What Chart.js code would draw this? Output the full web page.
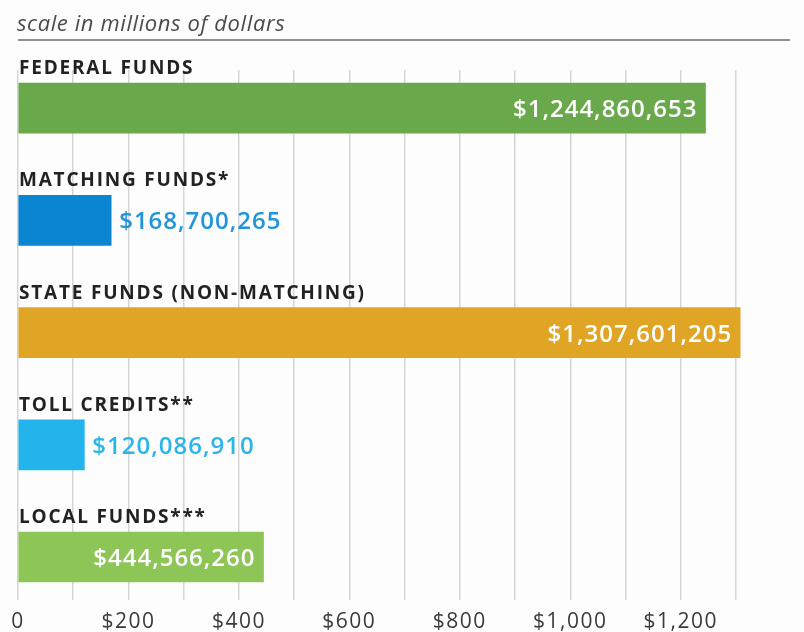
<!DOCTYPE html>
<html>
<head>
<meta charset="utf-8">
<script src="https://cdn.jsdelivr.net/npm/chart.js@4"></script>
<style>
  html, body { margin: 0; padding: 0; background: #fdfdfd; }
  #wrap { position: relative; width: 804px; height: 632px; }
</style>
</head>
<body>
<div id="wrap"><canvas id="fundsChart"></canvas></div>
<script>
// dados (valores em dólares)
const categories = ['FEDERAL FUNDS', 'MATCHING FUNDS*', 'STATE FUNDS (NON-MATCHING)', 'TOLL CREDITS**', 'LOCAL FUNDS***'];
const amounts = [1244860653, 168700265, 1307601205, 120086910, 444566260];
const barColors = ['#6aa94b', '#0a85d2', '#e1a526', '#23b4ec', '#8ec557'];
const valueInside = [true, false, true, false, true];
const valueColors = ['#ffffff', '#2194db', '#ffffff', '#2cb5e9', '#ffffff'];
const xTickValues = [0, 100, 200, 300, 400, 500, 600, 700, 800, 900, 1000, 1100, 1200, 1300];
const xTickLabels = ['0', '', '$200', '', '$400', '', '$600', '', '$800', '', '$1,000', '', '$1,200', ''];
const caption = 'scale in millions of dollars';

function fmtDollars(n) {
  return '$' + n.toLocaleString('en-US');
}

// legenda do topo + linha
const captionPlugin = {
  id: 'caption',
  beforeDraw(chart) {
    const ctx = chart.ctx;
    ctx.save();
    ctx.letterSpacing = '0.6px';
    ctx.font = 'italic 400 22px "Open Sans"';
    ctx.fillStyle = '#4b4b4b';
    ctx.textAlign = 'left';
    ctx.textBaseline = 'alphabetic';
    ctx.fillText(caption, 17, 31);
    ctx.strokeStyle = '#6a6a6a';
    ctx.lineWidth = 1.5;
    ctx.beginPath();
    ctx.moveTo(18, 40);
    ctx.lineTo(790, 40);
    ctx.stroke();
    ctx.restore();
    ctx.letterSpacing = '1.5px'; // ticks do eixo x
  }
};

// rótulos de categoria acima das barras e valores
const barTextPlugin = {
  id: 'barText',
  afterDatasetsDraw(chart) {
    const ctx = chart.ctx;
    const meta = chart.getDatasetMeta(0);
    ctx.save();
    meta.data.forEach((bar, i) => {
      const top = bar.y - bar.height / 2;

      ctx.letterSpacing = '1.8px';
      ctx.font = '700 19px "Open Sans"';
      ctx.fillStyle = '#222222';
      ctx.textAlign = 'left';
      ctx.textBaseline = 'alphabetic';
      ctx.fillText(categories[i], 19, top - 9);

      ctx.letterSpacing = '1px';
      ctx.font = '600 24px "Open Sans"';
      ctx.fillStyle = valueColors[i];
      const txt = fmtDollars(amounts[i]);
      if (valueInside[i]) {
        ctx.textAlign = 'right';
        ctx.fillText(txt, bar.x - 8, bar.y + 9);
      } else {
        ctx.textAlign = 'left';
        ctx.fillText(txt, bar.x + 8, bar.y + 9);
      }
    });
    ctx.restore();
  }
};

const ctx = document.getElementById('fundsChart');
new Chart(ctx, {
  type: 'bar',
  data: {
    datasets: [{
      data: amounts.map((v, i) => ({ x: v / 1e6, y: i })),
      backgroundColor: barColors,
      borderWidth: 0,
      barThickness: 50
    }]
  },
  options: {
    indexAxis: 'y',
    responsive: true,
    maintainAspectRatio: false,
    animation: false,
    devicePixelRatio: 1,
    layout: { padding: { left: 18, right: 57, top: 70, bottom: 0 } },
    plugins: {
      legend: { display: false },
      tooltip: { enabled: false }
    },
    scales: {
      x: {
        type: 'linear',
        min: 0,
        max: 1320,
        afterBuildTicks: scale => { scale.ticks = xTickValues.map(v => ({ value: v })); },
        afterFit: scale => { scale.height = 32; },
        grid: { color: '#d5d5d5', lineWidth: 1.5, drawTicks: false },
        border: { display: false },
        ticks: {
          autoSkip: false,
          maxRotation: 0,
          padding: 9,
          color: '#3a3a3a',
          font: { family: '"Open Sans"', size: 21, weight: '400' },
          callback: (v, i) => xTickLabels[i]
        }
      },
      y: {
        type: 'linear',
        reverse: true,
        offset: false,
        min: -0.34,
        max: 4.383,
        display: false
      }
    }
  },
  plugins: [captionPlugin, barTextPlugin]
});
</script>
</body>
</html>
